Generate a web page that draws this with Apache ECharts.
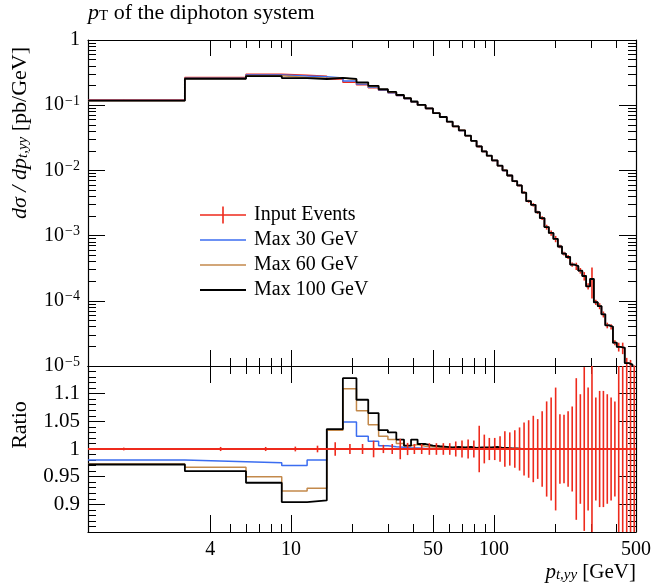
<!DOCTYPE html>
<html>
<head>
<meta charset="utf-8">
<script src="https://cdn.jsdelivr.net/npm/echarts@6/dist/echarts.min.js"></script>
<style>
html, body { margin: 0; padding: 0; background: #fff; }
#chart { width: 663px; height: 585px; }
</style>
</head>
<body>
<div id="chart"></div>
<script>
// bin edges of p_t,yy in GeV
const binEdges = [0, 3, 6, 9, 12, 15, 18, 21, 24, 27, 30, 33, 36, 39, 42, 46, 50, 54, 58.5, 62.5,
  67, 72, 77, 82, 87, 92, 97.5, 104, 110, 116, 123, 130, 137, 144, 152, 160, 168, 177, 186, 196,
  206, 216, 226, 237, 248, 260, 272, 284, 297, 310, 324, 338, 353, 369, 385, 402, 420, 440, 460, 480, 500];

// Input Events, dsigma/dpt in pb/GeV
const inputEvents = [0.1206, 0.265, 0.298, 0.288, 0.278, 0.253, 0.224, 0.206, 0.186, 0.170,
  0.155, 0.141, 0.127, 0.112, 0.100, 0.089, 0.0753, 0.0657, 0.0557, 0.0473,
  0.0411, 0.0340, 0.0284, 0.0233, 0.0195, 0.0168, 0.0142, 0.0118, 0.0100, 0.00834,
  0.00683, 0.00588, 0.00456, 0.00337, 0.00297, 0.00228, 0.00186, 0.00135, 0.00110, 0.00089,
  0.00068, 0.00053, 0.00047, 0.00036, 0.00034, 0.00029, 0.00024, 0.000167, 0.000216, 0.000095,
  0.000083, 0.000062, 0.000042, 0.000040, 0.0000228, 0.0000197, 0.0000190, 0.0000111, 0.0000105, 0.0000085];

// relative uncertainty of Input Events
const inputRelErr = [0.0025, 0.0037, 0.0037, 0.0043, 0.006, 0.012, 0.009, 0.009, 0.015, 0.0074,
  0.009, 0.0185, 0.011, 0.009, 0.009, 0.0105, 0.0105, 0.0105, 0.0105, 0.0136,
  0.0154, 0.017, 0.0154, 0.042, 0.026, 0.020, 0.020, 0.023, 0.032, 0.030,
  0.034, 0.039, 0.048, 0.052, 0.060, 0.054, 0.068, 0.086, 0.093, 0.111,
  0.063, 0.062, 0.068, 0.077, 0.128, 0.099, 0.148, 0.111, 0.5, 0.093,
  0.105, 0.105, 0.099, 0.093, 0.086, 0.154, 0.2, 0.2, 0.18, 0.2];

// MC / Input Events
const ratioMax30 = [0.980, 0.977, 0.975, 0.970, 0.980, 1.035, 1.049, 1.023, 1.014, 1.006,
  1.004, 1.003, 1.002, 1.002, 1.001, 1.001, 1.001, 1.001, 1.001, 1.001,
  1.000, 1.000, 1.000, 1.000, 1.000, 1.000, 1.000, 1.000, 1.000, 1.000,
  1.000, 1.000, 1.000, 1.000, 1.000, 1.000, 1.000, 1.000, 1.000, 1.000,
  1.000, 1.000, 1.000, 1.000, 1.000, 1.000, 1.000, 1.000, 1.000, 1.000,
  1.000, 1.000, 1.000, 1.000, 1.000, 1.000, 1.000, 1.000, 1.000, 1.000];
const ratioMax60 = [0.973, 0.967, 0.950, 0.924, 0.929, 1.034, 1.109, 1.069, 1.044, 1.023,
  1.017, 1.010, 1.006, 1.008, 1.005, 1.004, 1.003, 1.002, 1.002, 1.002,
  1.002, 1.002, 1.001, 1.001, 1.001, 1.001, 1.001, 1.001, 1.001, 1.000,
  1.000, 1.000, 1.000, 1.000, 1.000, 1.000, 1.000, 1.000, 1.000, 1.000,
  1.000, 1.000, 1.000, 1.000, 1.000, 1.000, 1.000, 1.000, 1.000, 1.000,
  1.000, 1.000, 1.000, 1.000, 1.000, 1.000, 1.000, 1.000, 1.000, 1.000];
const ratioMax100 = [0.972, 0.960, 0.939, 0.904, 0.907, 1.036, 1.128, 1.089, 1.065, 1.034,
  1.030, 1.017, 1.006, 1.017, 1.009, 1.006, 1.005, 1.004, 1.003, 1.004,
  1.003, 1.004, 1.002, 1.003, 1.003, 1.003, 1.004, 1.002, 1.002, 1.001,
  1.001, 1.000, 1.000, 1.000, 1.000, 1.000, 1.000, 1.000, 1.000, 1.000,
  1.000, 1.000, 1.000, 1.000, 1.000, 1.000, 1.000, 1.000, 1.000, 1.000,
  1.000, 1.000, 1.000, 1.000, 1.000, 1.000, 1.000, 1.000, 1.000, 1.000];

const xLabelTicks = [4, 10, 50, 100, 500];
const xMinorTicks = [5, 6, 7, 8, 9, 20, 30, 40, 60, 70, 80, 90, 200, 300, 400];
const yDecadeTicks = [-5, -4, -3, -2, -1, 0];
const ratioLabelTicks = [0.9, 0.95, 1, 1.05, 1.1];

const red = '#ee2a1c', blue = '#3b6df0', brown = '#c3894b', black = '#000000';
const font = 'Liberation Serif';

const lx = v => Math.log10(Math.max(v, 1));
const xMax = lx(500);

let yMinorTicks = [];
for (let n = -5; n < 0; n++) for (let k = 2; k <= 9; k++) yMinorTicks.push(n + Math.log10(k));
let ratioMinorTicks = [];
for (let k = 86; k <= 114; k++) if (k % 5 !== 0) ratioMinorTicks.push(k / 100);

// step line through bin edges
function stepData(f) {
  const n = binEdges.length - 1;
  const pts = [];
  for (let i = 0; i < n; i++) pts.push([lx(binEdges[i]), f(i)]);
  pts.push([lx(binEdges[n]), f(n - 1)]);
  return pts;
}
const centre = i => lx((binEdges[i] + binEdges[i + 1]) / 2);

function xAx(grid, pos, ticks, len, line, label) {
  return {
    type: 'value', gridIndex: grid, position: pos, min: 0, max: xMax,
    axisLine: { show: line, onZero: false, lineStyle: { color: '#000', width: 1.2 } },
    axisTick: { show: true, inside: true, length: len, customValues: ticks.map(lx),
      lineStyle: { color: '#000', width: 1 } },
    axisLabel: label ? {
      show: true, customValues: xLabelTicks.map(lx), margin: 8,
      fontFamily: font, fontSize: 20, color: '#000',
      formatter: v => String(Math.round(Math.pow(10, v)))
    } : { show: false },
    splitLine: { show: false }
  };
}
function yAx(grid, pos, min, max, ticks, len, line, label) {
  return {
    type: 'value', gridIndex: grid, position: pos, min: min, max: max,
    axisLine: { show: line, onZero: false, lineStyle: { color: '#000', width: 1.2 } },
    axisTick: { show: true, inside: true, length: len, customValues: ticks,
      lineStyle: { color: '#000', width: 1 } },
    axisLabel: label || { show: false },
    splitLine: { show: false }
  };
}

const logLabel = {
  show: true, customValues: yDecadeTicks, margin: 8, color: '#000',
  fontFamily: font, fontSize: 20,
  formatter: v => Math.round(v) === 0 ? '1' : '10{sup|\u2212' + (-Math.round(v)) + '}',
  rich: { sup: { fontFamily: font, fontSize: 14, verticalAlign: 'top', padding: [0, 0, 8, 1] } }
};
const ratioLabel = {
  show: true, customValues: ratioLabelTicks, margin: 8, color: '#000',
  fontFamily: font, fontSize: 21,
  formatter: v => String(+v.toFixed(2))
};

function errorSeries(xi, yi, toRange) {
  const data = inputEvents.map((v, i) => {
    const r = toRange(v, inputRelErr[i]);
    return [centre(i), r[0], r[1]];
  });
  return {
    type: 'custom', name: 'Input Events', xAxisIndex: xi, yAxisIndex: yi, clip: true,
    encode: { x: 0, y: [1, 2] }, data: data, z: 5,
    renderItem: (params, api) => {
      const p1 = api.coord([api.value(0), api.value(1)]);
      const p2 = api.coord([api.value(0), api.value(2)]);
      return { type: 'line', shape: { x1: p1[0], y1: p1[1], x2: p2[0], y2: p2[1] },
        style: { stroke: red, lineWidth: 1.6 } };
    }
  };
}
function stepSeries(name, color, width, xi, yi, f, z) {
  return {
    type: 'line', name: name, color: color, xAxisIndex: xi, yAxisIndex: yi, step: 'end',
    symbol: 'none', clip: true, z: z, data: stepData(f),
    lineStyle: { color: color, width: width }
  };
}

const mcRatios = [['Max 30 GeV', blue, 1.5, ratioMax30], ['Max 60 GeV', brown, 1.5, ratioMax60],
  ['Max 100 GeV', black, 1.8, ratioMax100]];

const series = [];
// upper panel
series.push(stepSeries('Input Events', red, 1.5, 0, 0, i => Math.log10(inputEvents[i]), 2));
series.push(errorSeries(0, 0, (v, e) => [Math.log10(Math.max(v * (1 - e), 1e-6)), Math.log10(v * (1 + e))]));
mcRatios.forEach((m, k) => series.push(stepSeries(m[0], m[1], m[2], 0, 0,
  i => Math.log10(inputEvents[i] * m[3][i]), 6 + k)));
// ratio panel
mcRatios.forEach((m, k) => series.push(stepSeries(m[0], m[1], m[2], 4, 4, i => m[3][i], 2 + k)));
series.push(stepSeries('Input Events', red, 2, 4, 4, i => 1, 8));
series.push(errorSeries(4, 4, (v, e) => [Math.max(1 - e, 0.8), Math.min(1 + e, 1.2)]));

const titleRich = (size) => ({
  i: { fontFamily: font, fontSize: size, fontStyle: 'italic' },
  s: { fontFamily: font, fontSize: Math.round(size * 0.7), fontStyle: 'italic', verticalAlign: 'bottom' },
  r: { fontFamily: font, fontSize: Math.round(size * 0.7), verticalAlign: 'bottom' },
  n: { fontFamily: font, fontSize: size }
});

const chart = echarts.init(document.getElementById('chart'), null, { renderer: 'canvas' });
chart.setOption({
  animation: false,
  backgroundColor: '#fff',
  grid: [
    { left: 88, right: 27, top: 40, height: 326 },
    { left: 88, right: 27, top: 366, height: 166 }
  ],
  xAxis: [
    xAx(0, 'bottom', xLabelTicks, 16, true, false),
    xAx(0, 'bottom', xMinorTicks, 8, false, false),
    xAx(0, 'top', xLabelTicks, 16, true, false),
    xAx(0, 'top', xMinorTicks, 8, false, false),
    xAx(1, 'bottom', xLabelTicks, 17, true, true),
    xAx(1, 'bottom', xMinorTicks, 8, false, false),
    xAx(1, 'top', xLabelTicks, 17, true, false),
    xAx(1, 'top', xMinorTicks, 8, false, false)
  ],
  yAxis: [
    yAx(0, 'left', -5, 0, yDecadeTicks, 17, true, logLabel),
    yAx(0, 'left', -5, 0, yMinorTicks, 8, false),
    yAx(0, 'right', -5, 0, yDecadeTicks, 17, true),
    yAx(0, 'right', -5, 0, yMinorTicks, 8, false),
    yAx(1, 'left', 0.85, 1.15, ratioLabelTicks, 17, true, ratioLabel),
    yAx(1, 'left', 0.85, 1.15, ratioMinorTicks, 8, false),
    yAx(1, 'right', 0.85, 1.15, ratioLabelTicks, 17, true),
    yAx(1, 'right', 0.85, 1.15, ratioMinorTicks, 8, false)
  ],
  legend: {
    orient: 'vertical', left: 195, top: 200, itemGap: 5, itemWidth: 46, itemHeight: 17,
    selectedMode: false,
    textStyle: { fontFamily: font, fontSize: 20, color: '#000', padding: [0, 0, 0, 3] },
    itemStyle: { borderWidth: 0 },
    data: [
      { name: 'Input Events', icon: 'path://M0,7.7h46v1.6h-46zM22.2,0h1.6v17h-1.6z' },
      { name: 'Max 30 GeV', icon: 'path://M0,0h46v1.6h-46z' },
      { name: 'Max 60 GeV', icon: 'path://M0,0h46v1.6h-46z' },
      { name: 'Max 100 GeV', icon: 'path://M0,0h46v1.8h-46z' }
    ]
  },
  graphic: [
    { type: 'text', x: 88, y: 2, style: {
      text: '{i|p}{r|T}{n| of the diphoton system}', fill: '#000',
      fontFamily: font, fontSize: 22, rich: titleRich(22) } },
    { type: 'text', x: 20, y: 133, rotation: Math.PI / 2, style: {
      text: '{i|d\u03c3 / dp}{s|t,yy}{n| [pb/GeV]}', fill: '#000',
      align: 'center', verticalAlign: 'middle', fontFamily: font, fontSize: 22, rich: titleRich(22) } },
    { type: 'text', x: 20, y: 425, rotation: Math.PI / 2, style: {
      text: 'Ratio', fill: '#000', align: 'center', verticalAlign: 'middle',
      fontFamily: font, fontSize: 22 } },
    { type: 'text', x: 636, y: 572, style: {
      text: '{i|p}{s|t,yy}{n| [GeV]}', fill: '#000', align: 'right', verticalAlign: 'middle',
      fontFamily: font, fontSize: 21, rich: titleRich(21) } }
  ],
  series: series
});
</script>
</body>
</html>
